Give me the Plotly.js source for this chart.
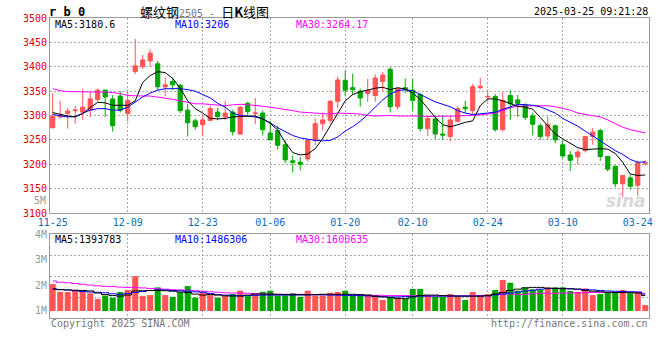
<!DOCTYPE html>
<html><head><meta charset="utf-8">
<script src="https://cdn.plot.ly/plotly-3.0.1.min.js"></script>
<style>html,body{margin:0;padding:0;background:#fff;}#chart{width:660px;height:360px;}</style>
</head><body><div id="chart"></div>
<script>
// ---------- data ----------
const dates = [
 '2024-11-25','2024-11-26','2024-11-27','2024-11-28','2024-11-29',
 '2024-12-02','2024-12-03','2024-12-04','2024-12-05','2024-12-06',
 '2024-12-09','2024-12-10','2024-12-11','2024-12-12','2024-12-13',
 '2024-12-16','2024-12-17','2024-12-18','2024-12-19','2024-12-20',
 '2024-12-23','2024-12-24','2024-12-25','2024-12-26','2024-12-27',
 '2024-12-30','2024-12-31','2025-01-02','2025-01-03','2025-01-06',
 '2025-01-07','2025-01-08','2025-01-09','2025-01-10','2025-01-13',
 '2025-01-14','2025-01-15','2025-01-16','2025-01-17','2025-01-20',
 '2025-01-21','2025-01-22','2025-01-23','2025-01-24','2025-01-27',
 '2025-02-05','2025-02-06','2025-02-07','2025-02-10','2025-02-11',
 '2025-02-12','2025-02-13','2025-02-14','2025-02-17','2025-02-18',
 '2025-02-19','2025-02-20','2025-02-21','2025-02-24','2025-02-25',
 '2025-02-26','2025-02-27','2025-02-28','2025-03-03','2025-03-04',
 '2025-03-05','2025-03-06','2025-03-07','2025-03-10','2025-03-11',
 '2025-03-12','2025-03-13','2025-03-14','2025-03-17','2025-03-18',
 '2025-03-19','2025-03-20','2025-03-21','2025-03-24','2025-03-25'];

const openP  = [3275,3297,3304,3310,3307,3311,3333,3352,3334,3340, 3304,3390,3400,3412,3406,3359,3370,3362,3311,3289,
                3281,3290,3307,3297,3307,3262,3325,3304,3305,3264, 3269,3240,3207,3204,3211,3249,3283,3290,3329,3372,
                3357,3350,3345,3341,3370,3395,3318,3357,3352,3343, 3273,3293,3262,3257,3288,3317,3310,3357,3338,3339,
                3271,3341,3332,3322,3299,3279,3258,3279,3240,3219, 3215,3228,3257,3269,3216,3196,3160,3172,3157,3202];
const highP  = [3346,3330,3316,3320,3354,3348,3356,3353,3342,3350, 3349,3457,3424,3436,3412,3378,3378,3365,3324,3294,
                3301,3320,3316,3330,3312,3320,3328,3336,3310,3289, 3279,3249,3218,3215,3250,3294,3303,3332,3380,3392,
                3386,3355,3375,3384,3389,3399,3358,3376,3375,3346, 3297,3300,3301,3299,3319,3330,3365,3377,3353,3344,
                3348,3352,3342,3325,3305,3284,3298,3281,3250,3227, 3230,3257,3274,3273,3216,3197,3177,3179,3208,3208];
const lowP   = [3273,3293,3273,3283,3291,3297,3329,3297,3267,3306, 3288,3385,3395,3400,3352,3339,3352,3305,3257,3271,
                3257,3290,3290,3290,3259,3260,3301,3282,3259,3250, 3230,3202,3183,3187,3206,3239,3269,3284,3315,3339,
                3342,3318,3328,3328,3350,3306,3312,3346,3310,3267, 3258,3252,3250,3247,3287,3305,3303,3354,3328,3267,
                3267,3291,3297,3291,3259,3250,3250,3243,3212,3186, 3200,3224,3240,3207,3185,3153,3132,3148,3134,3197];
const closeP = [3298,3301,3309,3311,3317,3334,3352,3338,3279,3311, 3331,3402,3414,3428,3359,3363,3363,3310,3285,3277,
                3291,3314,3298,3305,3267,3317,3308,3305,3271,3250, 3239,3209,3204,3200,3250,3283,3291,3329,3373,3352,
                3353,3336,3352,3377,3383,3318,3355,3354,3331,3273, 3294,3262,3260,3291,3314,3314,3359,3360,3339,3271,
                3331,3324,3325,3296,3282,3257,3282,3250,3217,3208, 3225,3257,3266,3216,3190,3160,3177,3155,3203,3203];

const ma5  = [3306,3302,3299,3297,3304,3316,3327,3326,3321,3321, 3321,3330,3368,3382,3390,3388,3376,3356,3330,3314,
              3305,3294,3293,3294,3297,3298,3298,3299,3293,3284, 3270,3245,3224,3219,3221,3232,3253,3279,3305,3330,
              3343,3349,3352,3356,3358,3353,3357,3354,3346,3333, 3315,3296,3281,3277,3281,3286,3289,3320,3334,3334,
              3330,3325,3319,3317,3313,3296,3280,3262,3252,3243, 3234,3230,3231,3232,3231,3222,3204,3180,3177,3178];
const ma10 = [3302,3299,3297,3298,3305,3311,3314,3314,3311,3311, 3317,3328,3338,3346,3352,3355,3355,3355,3353,3350,
              3343,3336,3325,3317,3305,3300,3299,3297,3293,3285, 3275,3267,3259,3254,3251,3249,3248,3249,3256,3268,
              3277,3288,3302,3318,3332,3344,3351,3353,3351,3343, 3335,3328,3323,3318,3310,3305,3302,3303,3305,3307,
              3312,3318,3323,3322,3321,3318,3312,3305,3294,3286, 3278,3268,3258,3248,3239,3228,3220,3210,3204,3205];
const ma30 = [3355,3351,3349,3349,3349,3349,3348,3348,3347,3345, 3341,3340,3340,3340,3338,3336,3333,3330,3327,3324,
              3324,3323,3322,3320,3322,3323,3322,3321,3319,3317, 3315,3313,3310,3307,3306,3306,3304,3303,3305,3305,
              3304,3303,3300,3299,3300,3300,3299,3299,3300,3299, 3298,3298,3298,3299,3299,3300,3300,3301,3303,3305,
              3310,3316,3319,3320,3320,3320,3320,3318,3315,3311, 3305,3302,3300,3297,3291,3284,3276,3271,3267,3264];

// volume, millions
const volM = [2.05,1.75,1.74,1.79,1.79,1.69,1.47,1.60,1.52,1.74, 1.82,2.36,1.58,1.62,1.92,1.62,1.55,1.74,1.97,1.52,
              1.72,1.62,1.52,1.60,1.66,1.79,1.58,1.66,1.75,1.79, 1.60,1.60,1.69,1.55,1.79,1.60,1.60,1.71,1.74,1.79,
              1.62,1.62,1.62,1.62,1.43,1.55,1.52,1.47,1.86,1.86, 1.62,1.55,1.55,1.66,1.55,1.43,1.74,1.60,1.66,1.82,
              2.21,2.10,1.79,1.92,1.84,1.84,1.92,1.92,1.92,1.78, 1.74,1.88,1.62,1.66,1.71,1.71,1.82,1.69,1.71,1.23];
const volMa5  = [1.85,1.83,1.82,1.81,1.80,1.78,1.70,1.64,1.60,1.58, 1.62,1.78,1.79,1.80,1.80,1.79,1.77,1.74,1.72,1.66,
                 1.62,1.64,1.62,1.59,1.58,1.58,1.62,1.66,1.66,1.66, 1.65,1.64,1.64,1.63,1.63,1.64,1.65,1.65,1.65,1.65,
                 1.65,1.64,1.62,1.58,1.55,1.52,1.49,1.48,1.55,1.60, 1.62,1.62,1.60,1.59,1.58,1.58,1.58,1.58,1.60,1.66,
                 1.72,1.80,1.85,1.90,1.92,1.92,1.89,1.88,1.87,1.86, 1.85,1.80,1.77,1.75,1.73,1.72,1.72,1.71,1.70,1.60];
const volMa10 = [1.87,1.84,1.82,1.79,1.76,1.74,1.73,1.71,1.67,1.65, 1.68,1.72,1.76,1.80,1.82,1.82,1.80,1.79,1.77,1.75,
                 1.73,1.68,1.64,1.62,1.61,1.60,1.60,1.61,1.62,1.62, 1.62,1.62,1.62,1.63,1.63,1.63,1.63,1.62,1.62,1.61,
                 1.60,1.60,1.59,1.57,1.56,1.55,1.55,1.56,1.57,1.58, 1.58,1.58,1.58,1.58,1.58,1.58,1.58,1.58,1.59,1.63,
                 1.66,1.70,1.74,1.78,1.81,1.85,1.87,1.88,1.88,1.87, 1.85,1.83,1.82,1.80,1.78,1.77,1.76,1.75,1.74,1.66];
const volMa30 = [2.17,2.12,2.10,2.07,2.04,2.01,1.98,1.96,1.95,1.93, 1.92,1.92,1.90,1.88,1.87,1.85,1.83,1.82,1.81,1.79,
                 1.77,1.75,1.73,1.71,1.70,1.70,1.69,1.68,1.67,1.65, 1.65,1.65,1.65,1.65,1.64,1.64,1.64,1.64,1.63,1.63,
                 1.63,1.62,1.62,1.61,1.61,1.60,1.60,1.60,1.59,1.59, 1.59,1.59,1.59,1.59,1.59,1.59,1.59,1.60,1.60,1.64,
                 1.66,1.66,1.65,1.65,1.67,1.69,1.69,1.69,1.70,1.70, 1.71,1.71,1.72,1.72,1.72,1.73,1.73,1.73,1.73,1.69];

const tickDates = ['2024-11-25','2024-12-09','2024-12-23','2025-01-06','2025-01-20','2025-02-10','2025-02-24','2025-03-10','2025-03-24'];
const gridDates = ['2024-12-09','2024-12-23','2025-01-06','2025-01-20','2025-02-10','2025-02-24','2025-03-10'];
const priceTicks = [3100,3150,3200,3250,3300,3350,3400,3450,3500];
const volTicks = [1,2,3,4];

const maLabels  = ['MA5:3180.6','MA10:3206','MA30:3264.17'];
const volLabels = ['MA5:1393783','MA10:1486306','MA30:1600635'];

// ---------- styling ----------
const UP = '#ff5555', DN = '#00a800';
const C5 = '#000000', C10 = '#0000ff', C30 = '#ff00ff';
const MONO = 'DejaVu Sans Mono, Liberation Mono, monospace';
const GRID = '#aaaaaa', BORDER = '#999999';
const VOL_BASE = 1, VOL_TOP = 4, VOL_BOTTOM = 0.727;

const xi = dates.map((d, i) => i);
const tickIdx = tickDates.map(d => dates.indexOf(d));
const gridIdx = gridDates.map(d => dates.indexOf(d));
const volColors = closeP.map((c, i) => c >= openP[i] ? UP : DN);

const traces = [
  {type:'candlestick', x:xi, open:openP, high:highP, low:lowP, close:closeP,
   xaxis:'x', yaxis:'y', whiskerwidth:0, hoverinfo:'skip',
   increasing:{line:{color:UP, width:1}, fillcolor:UP},
   decreasing:{line:{color:DN, width:1}, fillcolor:DN}},
  {type:'scatter', mode:'lines', x:xi, y:ma30, line:{color:C30, width:1}, hoverinfo:'skip'},
  {type:'scatter', mode:'lines', x:xi, y:ma10, line:{color:C10, width:1}, hoverinfo:'skip'},
  {type:'scatter', mode:'lines', x:xi, y:ma5,  line:{color:C5,  width:1}, hoverinfo:'skip'},
  {type:'bar', x:xi, y:volM.map(v => v - VOL_BASE), base:VOL_BASE, xaxis:'x2', yaxis:'y2',
   marker:{color:volColors, line:{width:0}}, hoverinfo:'skip'},
  {type:'scatter', mode:'lines', x:xi, y:volMa30, xaxis:'x2', yaxis:'y2', line:{color:C30, width:1, shape:'hvh'}, hoverinfo:'skip'},
  {type:'scatter', mode:'lines', x:xi, y:volMa10, xaxis:'x2', yaxis:'y2', line:{color:C10, width:1, shape:'hvh'}, hoverinfo:'skip'},
  {type:'scatter', mode:'lines', x:xi, y:volMa5,  xaxis:'x2', yaxis:'y2', line:{color:C5,  width:1, shape:'hvh'}, hoverinfo:'skip'}
];

const minorX = {tickmode:'array', tickvals:gridIdx, showgrid:true, gridcolor:GRID, gridwidth:1, griddash:'2px,2px', ticks:''};
const xr = [-0.36, dates.length - 0.5];

function px(x){ return (x - 50) / 599; }
function py(y){ return (318 - y) / 300; }

const ann = [];
function addText(text, x, y, anchor, color, size, extra){
  ann.push(Object.assign({text:text, x:px(x), y:py(y), xref:'paper', yref:'paper', xanchor:anchor, yanchor:'middle',
    showarrow:false, font:{family:MONO, size:size, color:color}, borderpad:0}, extra || {}));
}
addText('<b>r b 0</b>', 48, 12, 'left', '#000', 12);
addText("螺纹钢<span style='font-family:DejaVu Sans Mono;font-size:10px;color:#777'>2505 - </span>日<b>K</b>线图", 139, 12, 'left', '#000', 13,
  {font:{family:'Noto Sans CJK SC', size:13, color:'#000'}});
addText('2025-03-25 09:21:28', 649, 12, 'right', '#000', 10);
[C5, C10, C30].forEach((c, k) => addText(maLabels[k], [54,174,295][k], 24, 'left', c, 10));
[C5, C10, C30].forEach((c, k) => addText(volLabels[k], [54,174,295][k], 239, 'left', c, 10));
addText('5M', 47, 200, 'right', '#999', 10);
addText('Copyright 2025 SINA.COM', 50, 323, 'left', '#777', 10);
addText('http://finance.sina.com.cn', 649, 323, 'right', '#777', 10);
addText('<b><i>sina</i></b>', 626, 201, 'center', '#d8d8d8', 17, {font:{family:'DejaVu Sans', size:17, color:'#d8d8d8'}});

const layout = {
  width:660, height:360,
  margin:{l:50, r:11, t:18, b:42, pad:0},
  paper_bgcolor:'#ffffff', plot_bgcolor:'#ffffff',
  showlegend:false, boxgap:0.2, bargap:0.2,
  font:{family:MONO, size:10, color:'#000'},
  xaxis:{domain:[0,1], anchor:'y', range:xr, tickmode:'array', tickvals:tickIdx,
    ticktext:tickDates.map(d => d.slice(5)), showgrid:false, minor:minorX,
    tickfont:{family:MONO, size:10, color:'#0a6ebd'}, ticks:'', showline:true, mirror:true,
    linecolor:BORDER, linewidth:1, zeroline:false, rangeslider:{visible:false}, fixedrange:true},
  yaxis:{domain:[0.35,1], anchor:'x', range:[priceTicks[0], priceTicks[priceTicks.length-1]],
    tickmode:'array', tickvals:priceTicks, showgrid:true, gridcolor:GRID, griddash:'2px,2px',
    tickfont:{family:MONO, size:10, color:'#e00000'}, ticks:'', showline:true, mirror:true,
    linecolor:BORDER, linewidth:1, zeroline:false, fixedrange:true},
  xaxis2:{domain:[0,1], anchor:'y2', matches:'x', range:xr, showticklabels:false, showgrid:false,
    minor:minorX, ticks:'', showline:true, mirror:true, linecolor:BORDER, linewidth:1, zeroline:false, fixedrange:true},
  yaxis2:{domain:[0,0.28], anchor:'x2', range:[VOL_BOTTOM, VOL_TOP], tickmode:'array', tickvals:volTicks,
    ticktext:volTicks.map(v => v + 'M'), showgrid:false,
    minor:{tickmode:'linear', tick0:VOL_BOTTOM, dtick:(VOL_TOP - VOL_BOTTOM)/4, showgrid:true, gridcolor:GRID, griddash:'2px,2px', ticks:''},
    tickfont:{family:MONO, size:10, color:'#999'}, ticks:'', showline:true, mirror:true,
    linecolor:BORDER, linewidth:1, zeroline:false, fixedrange:true},
  annotations:ann
};

Plotly.newPlot('chart', traces, layout, {staticPlot:true, displayModeBar:false});
</script>
</body></html>
